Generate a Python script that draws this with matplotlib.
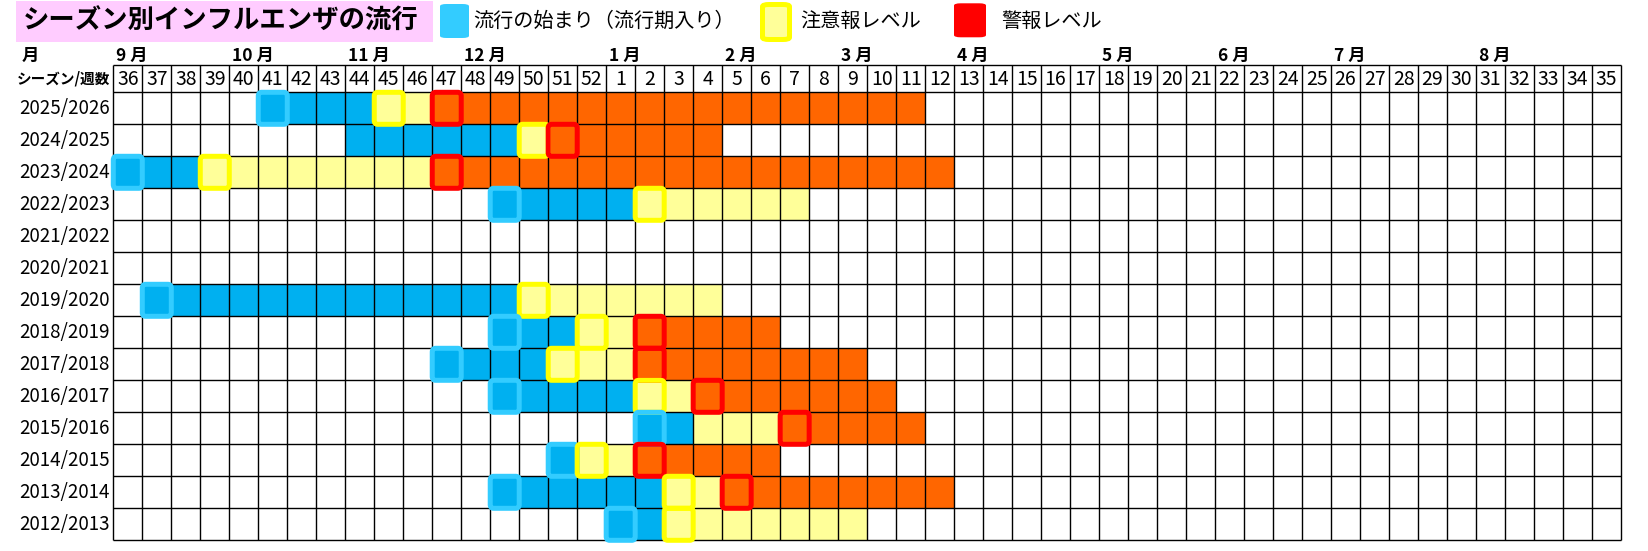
import numpy as np
import matplotlib.pyplot as plt
from matplotlib.colors import ListedColormap
from matplotlib.patches import FancyBboxPatch

plt.rcParams['font.family'] = ['Noto Sans CJK JP', 'DejaVu Sans']

# data
weeks = list(range(36, 53)) + list(range(1, 36))
month_labels = ['9 月', '10 月', '11 月', '12 月', '1 月', '2 月', '3 月', '4 月',
                '5 月', '6 月', '7 月', '8 月']
month_weeks = [36, 40, 44, 48, 1, 5, 9, 13, 18, 22, 26, 31]
seasons = ['2025/2026', '2024/2025', '2023/2024', '2022/2023', '2021/2022', '2020/2021',
           '2019/2020', '2018/2019', '2017/2018', '2016/2017', '2015/2016', '2014/2015',
           '2013/2014', '2012/2013']
epi_start = [41, 44, 36, 49, None, None, 37, 49, 47, 49, 2, 51, 49, 1]
epi_mark = [1, 0, 1, 1, 0, 0, 1, 1, 1, 1, 1, 1, 1, 1]
adv_start = [45, 50, 39, 2, None, None, 50, 52, 51, 2, 4, 52, 3, 3]
adv_mark = [1, 1, 1, 1, 0, 0, 1, 1, 1, 1, 0, 1, 1, 1]
warn_start = [47, 51, 47, None, None, None, None, 2, 2, 4, 7, 2, 5, None]
end_week = [11, 4, 12, 7, None, None, 4, 6, 9, 10, 11, 6, 12, 9]

fills = ['white', '#00B0F0', '#FFFF99', '#FF6600']
edges = ['#33CCFF', '#FFFF00', '#FF0000']

W, H = 1648, 551
col = {w: i for i, w in enumerate(weeks)}
nrow, ncol = len(seasons), len(weeks)

levels = np.zeros((nrow, ncol))
for r in range(nrow):
    if end_week[r] is None:
        continue
    for k, s in enumerate([epi_start, adv_start, warn_start]):
        if s[r] is not None:
            levels[r, col[s[r]]:col[end_week[r]] + 1] = k + 1

fig = plt.figure(figsize=(W / 100, H / 100), dpi=100)
top_px, data_top, bot_px = 65.0, 92.3, 540.3
left_px, right_px = 113.3, 1621.0
ax = fig.add_axes([left_px / W, 1 - bot_px / H, (right_px - left_px) / W, (bot_px - top_px) / H])
rowh = (bot_px - data_top) / nrow
hdr = -(data_top - top_px) / rowh

ax.pcolormesh(np.arange(ncol + 1), np.arange(nrow + 1), levels,
              cmap=ListedColormap(fills), vmin=-0.5, vmax=3.5, zorder=1)
ax.set_xlim(0, ncol)
ax.set_ylim(nrow, hdr)
ax.axis('off')

# grid
ax.vlines(np.arange(ncol + 1), hdr, nrow, colors='black', lw=1.0, zorder=2, clip_on=False)
ax.hlines(np.r_[hdr, np.arange(nrow + 1)], 0, ncol, colors='black', lw=1.0, zorder=2, clip_on=False)

# highlighted starts
for r in range(nrow):
    for s, m, ec in [(epi_start, epi_mark, edges[0]), (adv_start, adv_mark, edges[1]),
                     (warn_start, [1] * nrow, edges[2])]:
        if s[r] is not None and m[r]:
            ax.add_patch(FancyBboxPatch((col[s[r]], r), 1, 1,
                                        boxstyle='round,pad=0,rounding_size=0.12',
                                        fc='none', ec=ec, lw=3.6, zorder=3, clip_on=False))

# header texts
for i, w in enumerate(weeks):
    ax.text(i + 0.5, hdr / 2 + 0.02, str(w), ha='center', va='center', fontsize=14,
            family=['Liberation Sans Narrow', 'Noto Sans CJK JP'], zorder=4)
for lab, w in zip(month_labels, month_weeks):
    ax.text(col[w] + 0.1, -1.13, lab, ha='left', va='center', fontsize=12.5,
            fontweight='bold', clip_on=False)
ax.text(-3.16, -1.13, '月', ha='left', va='center', fontsize=12.5, fontweight='bold', clip_on=False)
ax.text(-0.1, hdr / 2, 'シーズン/週数', ha='right', va='center', fontsize=10.5,
        fontweight='bold', clip_on=False)
for r, s in enumerate(seasons):
    ax.text(-0.12, r + 0.5, s, ha='right', va='center', fontsize=13.5, clip_on=False)


# title and legend (figure pixels)
def fx(x):
    return x / W


def fy(y):
    return 1 - y / H


fig.add_artist(FancyBboxPatch((fx(16), fy(41.5)), fx(433 - 16), (41.5 - 1) / H,
                              boxstyle='square,pad=0', fc='#FFCCFF', ec='none',
                              transform=fig.transFigure))
fig.text(fx(221), fy(21), 'シーズン別インフルエンザの流行', ha='center', va='center',
         fontsize=19, fontweight='bold')

leg = [('流行の始まり（流行期入り）', 440, 469, 4, 38, '#33CCFF', 'none', 473),
       ('注意報レベル', 762.5, 789.5, 4.5, 39.5, '#FFFF99', '#FFFF00', 800),
       ('警報レベル', 954, 986, 3.3, 37.3, '#FF0000', 'none', 1001)]
for lab, x0, x1, y0, y1, fc, ec, tx in leg:
    fig.add_artist(FancyBboxPatch((fx(x0), fy(y1)), fx(x1 - x0), (y1 - y0) / H,
                                  boxstyle='round,pad=0,rounding_size=0.004',
                                  fc=fc, ec=ec, lw=3.6, transform=fig.transFigure))
    fig.text(fx(tx), fy(21), lab, ha='left', va='center', fontsize=14.5)

fig.savefig('out.png', dpi=100)
